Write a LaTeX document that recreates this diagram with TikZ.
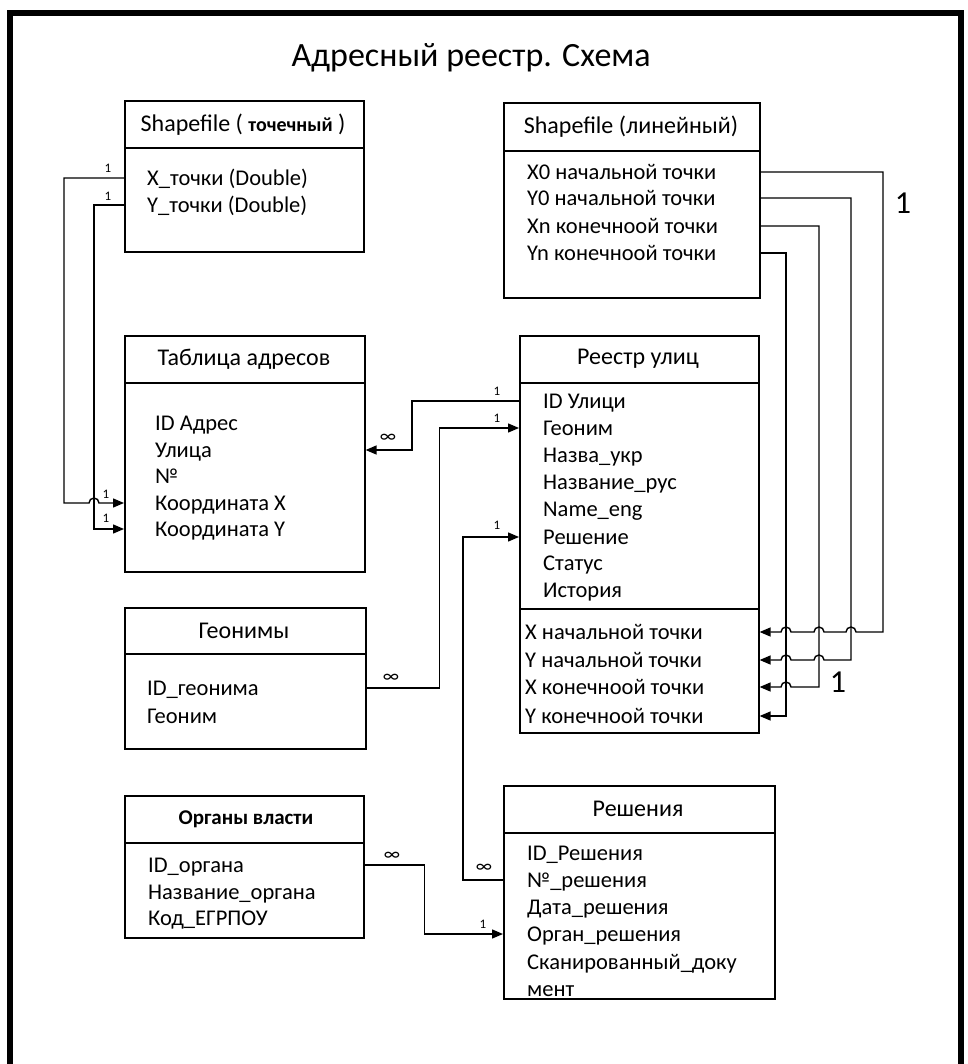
\documentclass[tikz,border=0pt]{standalone}
\usepackage{fontspec}
\setmainfont{Carlito}
\usetikzlibrary{arrows.meta,calc}
\tikzset{
 tbl/.style={draw, line width=1.6pt, fill=white, inner sep=0pt, anchor=north west},
 hdr/.style={font=\fontsize{24}{28}\selectfont, inner sep=0pt},
 fld/.style={anchor=west, inner sep=0pt, font=\fontsize{22.5}{26}\selectfont, text height=17pt, text depth=2pt},
 conn/.style={line width=1.4pt},
 arr/.style={conn, -{Triangle[length=11pt,width=9pt]}},
 lbl/.style={font=\fontsize{13}{15}\selectfont, inner sep=0pt},
 inf/.style={font=\fontsize{19}{21}\selectfont, inner sep=0pt},
 big/.style={font=\fontsize{32}{36}\selectfont, inner sep=0pt},
 sep/.style={line width=1.6pt},
}
\begin{document}
\begin{tikzpicture}[x=1pt,y=-1pt]
\useasboundingbox (0,0) rectangle (967,1064);
\fill[white] (0,0) rectangle (967,1064);
\draw[line width=6.5pt, line join=miter] (10,1064) -- (10,13) -- (961,13) -- (961,1064);

\node[font=\fontsize{34}{40}\selectfont, inner sep=0pt] (title) at (471,58) {Адресный реестр. Схема};

% tables
\node[tbl, minimum width=239pt, minimum height=151pt] (t1) at (124,100) {};
\draw[sep] ([yshift=-48pt]t1.north west) -- ([yshift=-48pt]t1.north east);
\node[hdr] (t1h) at (243,125) {Shapefile ( {\bfseries\fontsize{20}{24}\selectfont точечный} )};
\node[fld] (t1a) at (147,178) {X\_точки (Double)};
\node[fld] (t1b) at (147,205) {Y\_точки (Double)};

\node[tbl, minimum width=256pt, minimum height=195pt] (t2) at (503,102) {};
\draw[sep] ([yshift=-49pt]t2.north west) -- ([yshift=-49pt]t2.north east);
\node[hdr] (t2h) at (631,127) {Shapefile (линейный)};
\node[fld] (t2a) at (527,172) {X0 начальной точки};
\node[fld] (t2b) at (527,198) {Y0 начальной точки};
\node[fld] (t2c) at (527,226) {Xn конечноой точки};
\node[fld] (t2d) at (527,253) {Yn конечноой точки};

\node[tbl, minimum width=240pt, minimum height=236pt] (t3) at (124,335) {};
\draw[sep] ([yshift=-48pt]t3.north west) -- ([yshift=-48pt]t3.north east);
\node[hdr] (t3h) at (244,359) {Таблица адресов};
\node[fld] (t3a) at (155,423) {ID Адрес};
\node[fld] (t3b) at (155,450) {Улица};
\node[fld] (t3c) at (155,476) {№};
\node[fld] (t3d) at (155,503) {Координата X};
\node[fld] (t3e) at (155,529) {Координата Y};

\node[tbl, minimum width=239pt, minimum height=397pt] (t4) at (519,335) {};
\draw[sep] ([yshift=-48pt]t4.north west) -- ([yshift=-48pt]t4.north east);
\draw[sep] ([yshift=-274pt]t4.north west) -- ([yshift=-274pt]t4.north east);
\node[hdr] (t4h) at (638,359) {Реестр улиц};
\node[fld] (t4a) at (543,401) {ID Улици};
\node[fld] (t4b) at (543,428) {Геоним};
\node[fld] (t4c) at (543,455) {Назва\_укр};
\node[fld] (t4d) at (543,482) {Название\_рус};
\node[fld] (t4e) at (543,509) {Name\_eng};
\node[fld] (t4f) at (543,537) {Решение};
\node[fld] (t4g) at (543,563) {Статус};
\node[fld] (t4h2) at (543,590) {История};
\node[fld] (t4i) at (525,632) {X начальной точки};
\node[fld] (t4j) at (525,660) {Y начальной точки};
\node[fld] (t4k) at (525,687) {X конечноой точки};
\node[fld] (t4l) at (525,716) {Y конечноой точки};

\node[tbl, minimum width=241pt, minimum height=141pt] (t5) at (124,607) {};
\draw[sep] ([yshift=-47pt]t5.north west) -- ([yshift=-47pt]t5.north east);
\node[hdr] (t5h) at (244,631) {Геонимы};
\node[fld] (t5a) at (147,688) {ID\_геонима};
\node[fld] (t5b) at (147,716) {Геоним};

\node[tbl, minimum width=239pt, minimum height=142pt] (t6) at (124,795) {};
\draw[sep] ([yshift=-48pt]t6.north west) -- ([yshift=-48pt]t6.north east);
\node[hdr, font=\bfseries\fontsize{21}{25}\selectfont] (t6h) at (246,819) {Органы власти};
\node[fld] (t6a) at (148,865) {ID\_органа};
\node[fld] (t6b) at (148,892) {Название\_органа};
\node[fld] (t6c) at (148,918) {Код\_ЕГРПОУ};

\node[tbl, minimum width=271pt, minimum height=213pt] (t7) at (503,785) {};
\draw[sep] ([yshift=-48pt]t7.north west) -- ([yshift=-48pt]t7.north east);
\node[hdr] (t7h) at (638,809) {Решения};
\node[fld] (t7a) at (527,853) {ID\_Решения};
\node[fld] (t7b) at (527,880) {№\_решения};
\node[fld] (t7c) at (527,907) {Дата\_решения};
\node[fld] (t7d) at (527,934) {Орган\_решения};
\node[fld] (t7e) at (527,962) {Сканированный\_доку};
\node[fld] (t7f) at (527,989) {мент};

% left connectors
\draw[arr] (t1.west |- t1a) -- ++(-60pt,0) |- ($(t3.west |- t3d)+(-35pt,0)$) arc[start angle=180,end angle=0,radius=5pt] -- (t3.west |- t3d);
\draw[arr] (t1.west |- t1b) -- ++(-30pt,0) |- (t3.west |- t3e);
\node[lbl] (l1) at (108,168) {1};
\node[lbl] (l2) at (108,196) {1};
\node[lbl] (l3) at (106,494) {1};
\node[lbl] (l4) at (106,518) {1};

% middle connectors
\draw[arr] (t4.west |- t4a) -- ++(-107pt,0) |- (t3.east |- t3b);
\node[lbl] (l5) at (497,391) {1};
\node[inf] (l6) at (388,438) {∞};
\draw[arr] (t5.east |- t5a) -- ++(73pt,0) |- (t4.west |- t4b);
\node[inf] (l7) at (391,678) {∞};
\node[lbl] (l8) at (497,418) {1};
\draw[arr] (t7.west |- t7b) -- ++(-40pt,0) |- (t4.west |- t4f);
\node[inf] (l9) at (484,868) {∞};
\node[lbl] (l10) at (497,525) {1};
\draw[arr] (t6.east |- t6a) -- ++(60pt,0) |- (t7.west |- t7d);
\node[inf] (l11) at (392,856) {∞};
\node[lbl] (l12) at (483,924) {1};

% right connectors
\coordinate (v1) at (883,0);
\coordinate (v2) at (851,0);
\coordinate (v3) at (819,0);
\coordinate (v4) at (786,0);
\draw[arr] (t2.east |- t2a) -| (v1 |- t4i) -- ($(v2 |- t4i)+(5pt,0)$) arc[start angle=0,end angle=180,radius=5pt] -- ($(v3 |- t4i)+(5pt,0)$) arc[start angle=0,end angle=180,radius=5pt] -- ($(v4 |- t4i)+(5pt,0)$) arc[start angle=0,end angle=180,radius=5pt] -- (t4.east |- t4i);
\draw[arr] (t2.east |- t2b) -| (v2 |- t4j) -- ($(v3 |- t4j)+(5pt,0)$) arc[start angle=0,end angle=180,radius=5pt] -- ($(v4 |- t4j)+(5pt,0)$) arc[start angle=0,end angle=180,radius=5pt] -- (t4.east |- t4j);
\draw[arr] (t2.east |- t2c) -| (v3 |- t4k) -- ($(v4 |- t4k)+(5pt,0)$) arc[start angle=0,end angle=180,radius=5pt] -- (t4.east |- t4k);
\draw[arr] (t2.east |- t2d) -| (v4 |- t4l) -- (t4.east |- t4l);
\node[big] (b1) at (903,203) {1};
\node[big] (b2) at (838,682) {1};
\end{tikzpicture}
\end{document}
